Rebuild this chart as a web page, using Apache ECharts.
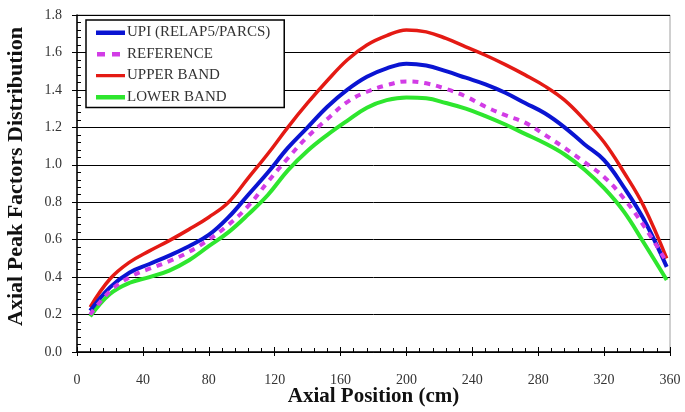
<!DOCTYPE html>
<html>
<head>
<meta charset="utf-8">
<script src="https://cdn.jsdelivr.net/npm/echarts@6/dist/echarts.min.js"></script>
<style>html,body{margin:0;padding:0;background:#fff}#c{width:685px;height:412px}</style>
</head>
<body>
<div id="c"></div>
<script>
// Axial position (cm), shared by all four curves
var positions = [8, 20, 32, 44, 56, 68, 80, 92, 104, 116, 128, 140, 152, 164, 176, 188, 200, 212, 224, 236, 248, 260, 272, 284, 296, 308, 320, 332, 344, 358];
// UPI (RELAP5/PARCS)
var upiValues = [0.22, 0.345, 0.425, 0.47, 0.515, 0.565, 0.625, 0.72, 0.84, 0.96, 1.09, 1.20, 1.31, 1.40, 1.47, 1.515, 1.54, 1.53, 1.50, 1.465, 1.43, 1.385, 1.33, 1.275, 1.20, 1.11, 1.025, 0.88, 0.71, 0.455];
// REFERENCE
var refValues = [0.20, 0.325, 0.40, 0.445, 0.485, 0.535, 0.60, 0.68, 0.78, 0.91, 1.035, 1.15, 1.245, 1.335, 1.39, 1.425, 1.445, 1.435, 1.405, 1.365, 1.31, 1.265, 1.225, 1.16, 1.09, 1.015, 0.935, 0.82, 0.675, 0.48];
// UPPER BAND
var upperValues = [0.24, 0.39, 0.48, 0.54, 0.595, 0.655, 0.72, 0.80, 0.93, 1.06, 1.20, 1.33, 1.45, 1.56, 1.64, 1.69, 1.72, 1.71, 1.675, 1.63, 1.585, 1.535, 1.48, 1.42, 1.345, 1.24, 1.12, 0.96, 0.78, 0.50];
// LOWER BAND
var lowerValues = [0.19, 0.31, 0.37, 0.40, 0.435, 0.49, 0.565, 0.64, 0.735, 0.84, 0.97, 1.075, 1.16, 1.235, 1.305, 1.345, 1.36, 1.355, 1.33, 1.30, 1.26, 1.215, 1.165, 1.115, 1.055, 0.975, 0.875, 0.75, 0.585, 0.385];

var seriesNames = ['UPI (RELAP5/PARCS)', 'REFERENCE', 'UPPER BAND', 'LOWER BAND'];

function pairs(xs, ys) { return xs.map(function (x, i) { return [x, ys[i]]; }); }

var FONT = 'Liberation Serif';
// legend icons: thin horizontal strokes inside a 29x14 box (corner specks fix the box)
var BOX = 'M0,0L.01,0L0,.01Z M29,14L28.99,14L29,13.99Z ';
var iconSolid4 = 'path://' + BOX + 'M0,5h29v4.5h-29z';
var iconSolid3 = 'path://' + BOX + 'M0,5.5h29v3.2h-29z';
var iconDash = 'path://' + BOX + 'M1,5h8v4.5h-8z M16,5h8v4.5h-8z';

var chart = echarts.init(document.getElementById('c'), null, {renderer: 'canvas'});
chart.setOption({
  animation: false,
  backgroundColor: '#fff',
  textStyle: {fontFamily: FONT},
  grid: {left: 77, right: 15, top: 15, bottom: 60, containLabel: false, outerBoundsMode: 'none',
         show: true, borderColor: '#a0a0a0', borderWidth: 1},
  legend: {
    orient: 'vertical', left: 86, top: 20,
    padding: [5, 14, 3, 10], itemGap: 6.5, itemWidth: 29, itemHeight: 14,
    backgroundColor: '#fff', borderColor: '#000', borderWidth: 1.5,
    textStyle: {fontFamily: FONT, fontSize: 15, color: '#333', padding: [0, 0, 0, -3]},
    data: [
      {name: seriesNames[0], icon: iconSolid4},
      {name: seriesNames[1], icon: iconDash},
      {name: seriesNames[2], icon: iconSolid3},
      {name: seriesNames[3], icon: iconSolid4}
    ]
  },
  xAxis: [{
    type: 'value', min: 0, max: 360, interval: 40,
    name: 'Axial Position (cm)', nameLocation: 'middle', nameGap: 34, nameMoveOverlap: false,
    nameTextStyle: {fontFamily: FONT, fontSize: 21, fontWeight: 'bold', color: '#111'},
    axisLine: {lineStyle: {color: '#000', width: 1.5}},
    axisTick: {show: true, inside: false, length: 4, lineStyle: {color: '#000'}},
    axisLabel: {fontFamily: FONT, fontSize: 14, color: '#333', margin: 21, formatter: function (v) { return String(v); }},
    splitLine: {show: false},
    minorTick: {show: false}
  }, {
    type: 'value', min: 0, max: 360, interval: 40, position: 'bottom',
    axisLine: {show: false},
    axisTick: {show: true, inside: true, length: 5, lineStyle: {color: '#000'}},
    minorTick: {show: true, splitNumber: 5, length: 4, lineStyle: {color: '#000'}},
    axisLabel: {show: false}, splitLine: {show: false}
  }],
  yAxis: [{
    type: 'value', min: 0, max: 1.8, interval: 0.2,
    name: 'Axial Peak Factors Distribution', nameLocation: 'middle', nameGap: 50,
    nameTextStyle: {fontFamily: FONT, fontSize: 22, fontWeight: 'bold', color: '#111', padding: [0, 0, 0, 14]},
    axisLine: {show: true, lineStyle: {color: '#000', width: 1.5}},
    axisTick: {show: true, inside: false, length: 5, lineStyle: {color: '#000'}},
    axisLabel: {fontFamily: FONT, fontSize: 14, color: '#333', margin: 15, formatter: function (v) { return v.toFixed(1); }},
    splitLine: {show: true, lineStyle: {color: '#000', width: 1}},
    minorTick: {show: false}
  }, {
    type: 'value', min: 0, max: 1.8, interval: 0.2, position: 'left',
    axisLine: {show: false},
    axisTick: {show: true, inside: true, length: 5, lineStyle: {color: '#000'}},
    minorTick: {show: true, splitNumber: 5, length: 4, lineStyle: {color: '#000'}},
    axisLabel: {show: false}, splitLine: {show: false}
  }],
  series: [
    {name: seriesNames[2], type: 'line', data: pairs(positions, upperValues), smooth: 0.4, symbol: 'none', z: 3,
     itemStyle: {color: '#e41a14'}, lineStyle: {color: '#e41a14', width: 3.5}},
    {name: seriesNames[0], type: 'line', data: pairs(positions, upiValues), smooth: 0.4, symbol: 'none', z: 4,
     itemStyle: {color: '#0a14d2'}, lineStyle: {color: '#0a14d2', width: 4}},
    {name: seriesNames[1], type: 'line', data: pairs(positions, refValues), smooth: 0.4, symbol: 'none', z: 5,
     itemStyle: {color: '#d23ce6'}, lineStyle: {color: '#d23ce6', width: 4, type: [6, 6]}},
    {name: seriesNames[3], type: 'line', data: pairs(positions, lowerValues), smooth: 0.4, symbol: 'none', z: 3,
     itemStyle: {color: '#2ee62e'}, lineStyle: {color: '#2ee62e', width: 4}}
  ]
});
</script>
</body>
</html>
